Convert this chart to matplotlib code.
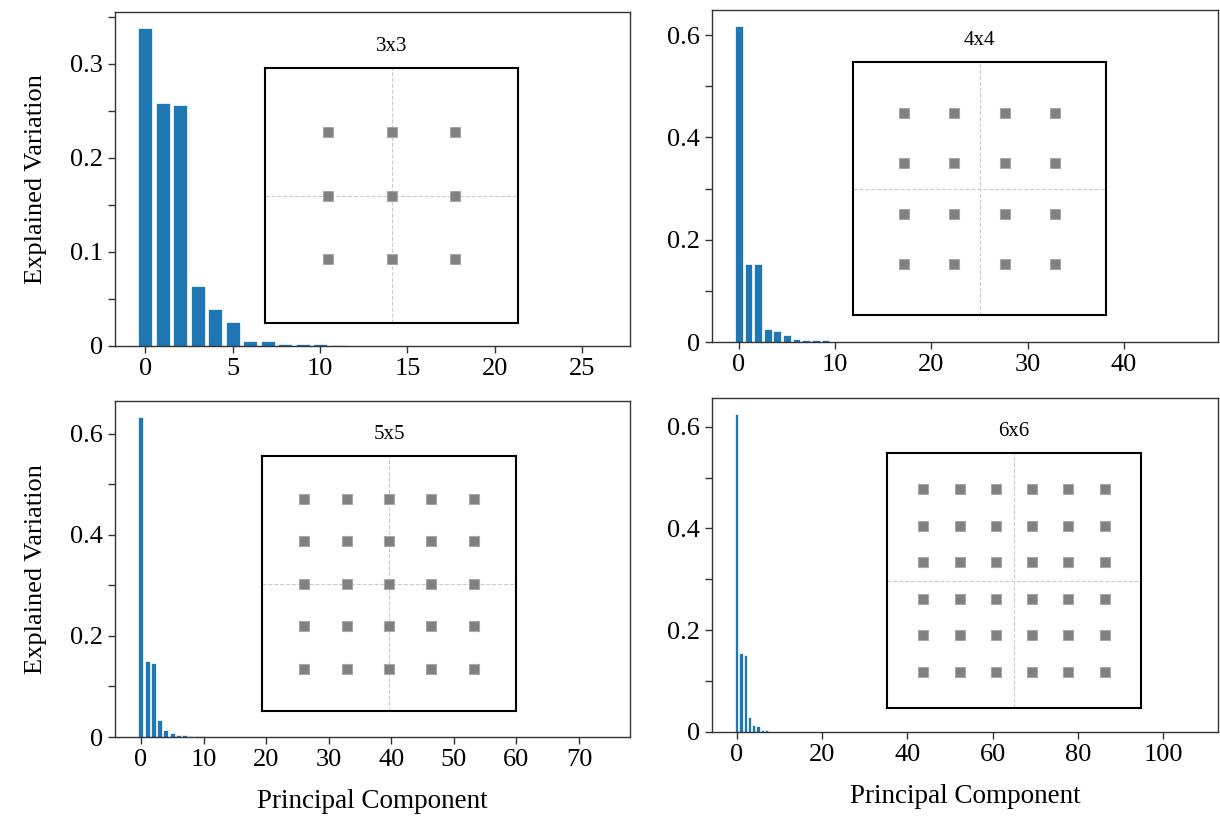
import matplotlib
matplotlib.use("Agg")
import matplotlib.pyplot as plt
import numpy as np

plt.rcParams['font.family'] = ['Liberation Serif', 'DejaVu Serif']

# explained variation per principal component
var_3x3 = [0.338, 0.258, 0.256, 0.064, 0.039, 0.026, 0.005, 0.005, 0.002, 0.002, 0.002, 0.001] + [0.0] * 15
var_4x4 = [0.618, 0.152, 0.152, 0.026, 0.021, 0.013, 0.005, 0.004, 0.004, 0.003] + [0.0] * 38
var_5x5 = [0.633, 0.151, 0.147, 0.033, 0.013, 0.008, 0.003, 0.003, 0.002, 0.001, 0.001] + [0.0] * 64
var_6x6 = [0.625, 0.156, 0.151, 0.029, 0.0145, 0.011, 0.004, 0.004] + [0.0] * 100

grid_sizes = [3, 4, 5, 6]
titles = ["3x3", "4x4", "5x5", "6x6"]
xticks = [[0, 5, 10, 15, 20, 25],
          [0, 10, 20, 30, 40],
          [0, 10, 20, 30, 40, 50, 60, 70],
          [0, 20, 40, 60, 80, 100]]
ymajor = [[0, 0.1, 0.2, 0.3], [0, 0.2, 0.4, 0.6], [0, 0.2, 0.4, 0.6], [0, 0.2, 0.4, 0.6]]
yminor = [[0.05, 0.15, 0.25, 0.35], [0.1, 0.3, 0.5], [0.1, 0.3, 0.5], [0.1, 0.3, 0.5]]
variations = [var_3x3, var_4x4, var_5x5, var_6x6]

W, H = 1220, 817
def px(x0, y0, x1, y1):
    return [x0 / W, 1 - y1 / H, (x1 - x0) / W, (y1 - y0) / H]

main_boxes = [px(115, 12, 630, 346), px(712, 10, 1218, 342),
              px(115, 401, 630, 737), px(712, 398, 1218, 732)]
inset_boxes = [px(265, 68, 518, 323), px(853, 62, 1106, 315),
               px(262, 456, 516, 711), px(887, 453, 1141, 708)]

fig = plt.figure(figsize=(12.2, 8.17), dpi=100)

for i in range(4):
    ax = fig.add_axes(main_boxes[i])
    v = variations[i]
    ax.bar(np.arange(len(v)), v, width=0.8, color='#1f77b4', edgecolor='white', linewidth=0.5)
    ax.set_xticks(xticks[i])
    ax.set_yticks(ymajor[i])
    ax.set_yticks(yminor[i], minor=True)
    ax.set_yticklabels(['0' if t == 0 else f'{t:g}' for t in ymajor[i]])
    ax.tick_params(which='both', length=5, width=1, labelsize=19, color='#333333')
    for s in ax.spines.values():
        s.set_linewidth(1.0)
        s.set_color('#333333')
    if i % 2 == 0:
        ax.set_ylabel('Explained Variation', fontsize=19, labelpad=17)
    if i >= 2:
        ax.set_xlabel('Principal Component', fontsize=19.5, labelpad=13)

    # inset with the grid layout
    n = grid_sizes[i]
    lim = (n + 1) / 2
    ins = fig.add_axes(inset_boxes[i])
    c = np.arange(n) - (n - 1) / 2
    gx, gy = np.meshgrid(c, c)
    ins.axhline(0, color='#cccccc', ls='--', lw=0.8, zorder=0)
    ins.axvline(0, color='#cccccc', ls='--', lw=0.8, zorder=0)
    ins.plot(gx.ravel(), gy.ravel(), 's', markersize=6.5, mfc='#808080', mec='#a8a8a8', mew=0.8)
    ins.set_xlim(-lim, lim)
    ins.set_ylim(-lim, lim)
    ins.set_xticks([])
    ins.set_yticks([])
    for s in ins.spines.values():
        s.set_linewidth(1.5)
        s.set_color('black')
    ins.set_title(titles[i], fontsize=15, pad=12)

fig.savefig('out.png', dpi=100)
